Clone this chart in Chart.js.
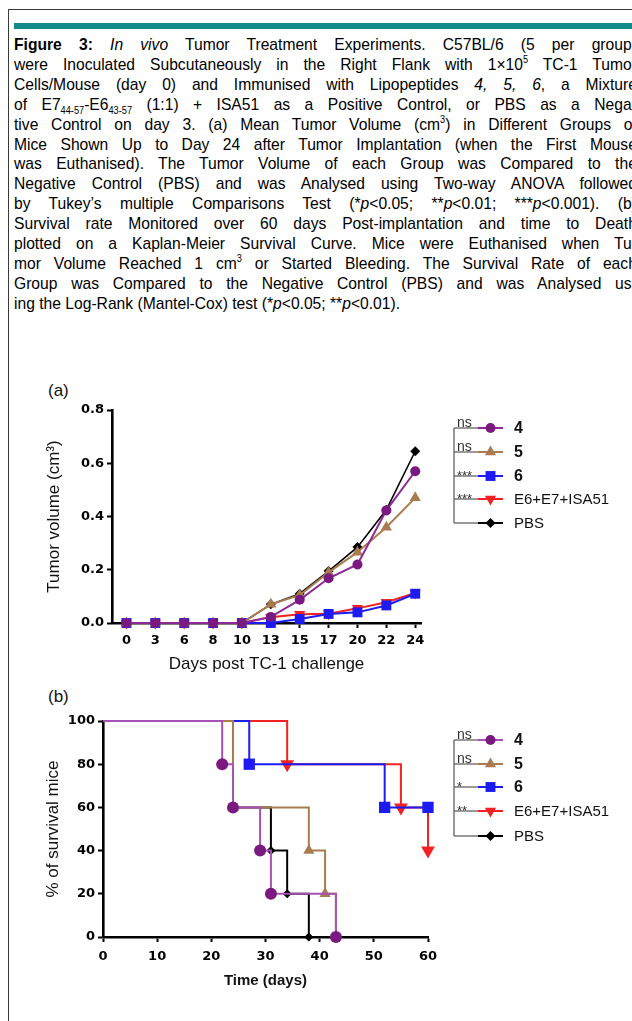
<!DOCTYPE html>
<html><head><meta charset="utf-8">
<script src="https://cdn.jsdelivr.net/npm/chart.js@4.4.1/dist/chart.umd.min.js"></script>
<style>
html,body{margin:0;padding:0;background:#fff;overflow:hidden;width:632px;height:1021px;position:relative;}
#box{position:absolute;left:8px;top:9px;width:700px;height:1100px;border:1px solid #3a3a3a;}
#bar{position:absolute;left:14px;top:23px;width:700px;height:6px;background:#128a8b;}
#cap{position:absolute;left:14px;top:35px;width:677px;font-family:'Liberation Sans',Arial,sans-serif;font-size:17px;line-height:19.9px;color:#000;transform:scaleX(0.92);transform-origin:0 0;}
#cap div{text-align:justify;text-align-last:justify;}
#cap div.last{text-align-last:left;}
sub,sup{font-size:10px;line-height:0;}
.lbl{position:absolute;font-family:'Liberation Sans',Arial,sans-serif;font-size:17px;color:#111;}
canvas{position:absolute;left:0;}
</style>
</head><body>
<div id="box"></div>
<div id="bar"></div>
<div id="cap">
<div><b>Figure 3:</b> <i>In vivo</i> Tumor Treatment Experiments. C57BL/6 (5 per group)</div>
<div>were Inoculated Subcutaneously in the Right Flank with 1×10<sup>5</sup> TC-1 Tumor</div>
<div>Cells/Mouse (day 0) and Immunised with Lipopeptides <i>4, 5, 6</i>, a Mixture</div>
<div>of E7<sub>44-57</sub>-E6<sub>43-57</sub> (1:1) + ISA51 as a Positive Control, or PBS as a Nega-</div>
<div>tive Control on day 3. (a) Mean Tumor Volume (cm<sup>3</sup>) in Different Groups of</div>
<div>Mice Shown Up to Day 24 after Tumor Implantation (when the First Mouse</div>
<div>was Euthanised). The Tumor Volume of each Group was Compared to the</div>
<div>Negative Control (PBS) and was Analysed using Two-way ANOVA followed</div>
<div>by Tukey’s multiple Comparisons Test (*<i>p</i>&lt;0.05; **<i>p</i>&lt;0.01; ***<i>p</i>&lt;0.001). (b)</div>
<div>Survival rate Monitored over 60 days Post-implantation and time to Death</div>
<div>plotted on a Kaplan-Meier Survival Curve. Mice were Euthanised when Tu-</div>
<div>mor Volume Reached 1 cm<sup>3</sup> or Started Bleeding. The Survival Rate of each</div>
<div>Group was Compared to the Negative Control (PBS) and was Analysed us-</div>
<div class="last">ing the Log-Rank (Mantel-Cox) test (*<i>p</i>&lt;0.05; **<i>p</i>&lt;0.01).</div>
</div>
<div class="lbl" style="left:48px;top:381px;">(a)</div>
<div class="lbl" style="left:48px;top:687px;">(b)</div>
<canvas id="ca" width="632" height="310" style="top:378px;"></canvas>
<canvas id="cb" width="632" height="330" style="top:683px;"></canvas>
<script>
// ---------- data ----------
const seriesNames = ['4','5','6','E6+E7+ISA51','PBS'];
const sigA = ['ns','ns','***','***',''];
const sigB = ['ns','ns','*','**',''];

// (a) mean tumor volume (cm3)
const days = ['0','3','6','8','10','13','15','17','20','22','24'];
const vol4   = [0,0,0,0,0,0.023,0.087,0.168,0.220,0.423,0.570];
const vol5   = [0,0,0,0,0,0.070,0.105,0.190,0.266,0.360,0.470];
const vol6   = [0,0,0,0,0,0.000,0.015,0.034,0.040,0.066,0.110];
const volE   = [0,0,0,0,0,0.022,0.033,0.035,0.055,0.078,0.113];
const volPBS = [0,0,0,0,0,0.070,0.110,0.195,0.285,0.425,0.645];
const yTicksA = [0,0.2,0.4,0.6,0.8];

// (b) Kaplan-Meier survival (% of survival mice)
const t4 = [0,22,24,29,31,43],  s4 = [100,80,60,40,20,0];
const t5 = [0,24,38,41,43],     s5 = [100,60,40,20,0];
const t6 = [0,27,52,60],        s6 = [100,80,60,60];
const tE = [0,34,55,60],        sE = [100,80,60,40];
const tP = [0,24,31,34,38],     sP = [100,60,40,20,0];
const yTicksB = [0,20,40,60,80,100];
const xTicksB = [0,10,20,30,40,50,60];

// ---------- styles ----------
const FONT = "'Liberation Sans', Arial, sans-serif";
const TICKFONT = "'DejaVu Sans', 'Liberation Sans', sans-serif";
const colPurple = '#7a1a80', colPurpleLineA = '#8e2a96', colPurpleLineB = '#a852b8';
const colBrown = '#a97c50', colBlue = '#1c1cf2', colRed = '#f22222', colBlack = '#000000';

function markerPath(ctx, style, r, x, y, rot) {
  ctx.beginPath();
  if (style === 'circle') { ctx.arc(x, y, r, 0, Math.PI*2); }
  else if (style === 'triangle') {
    const a0 = (rot||0) * Math.PI/180;
    for (let k=0;k<3;k++){const a=a0+k*2*Math.PI/3; const px=x+Math.sin(a)*r, py=y-Math.cos(a)*r; k?ctx.lineTo(px,py):ctx.moveTo(px,py);}
    ctx.closePath();
  } else if (style === 'rect') { const s=r*Math.SQRT1_2; ctx.rect(x-s,y-s,2*s,2*s); }
  else if (style === 'rectRot') { ctx.moveTo(x,y-r);ctx.lineTo(x+r,y);ctx.lineTo(x,y+r);ctx.lineTo(x-r,y);ctx.closePath(); }
  ctx.fill();
}

const bracketLegend = {
  id: 'bracketLegend',
  afterDraw(chart, args, opts) {
    const ctx = chart.ctx, ca = chart.chartArea;
    const bx = ca.right + opts.dx;
    const rows = opts.rows.map(r => ca.top + r);
    ctx.save();
    ctx.strokeStyle = '#555'; ctx.lineWidth = 1.2;
    ctx.beginPath(); ctx.moveTo(bx, rows[0]); ctx.lineTo(bx, rows[rows.length-1]); ctx.stroke();
    chart.data.datasets.forEach((ds, i) => {
      const y = rows[i];
      ctx.strokeStyle = '#555'; ctx.lineWidth = 1.2;
      ctx.beginPath(); ctx.moveTo(bx, y); ctx.lineTo(bx+24, y); ctx.stroke();
      const sig = opts.sig[i];
      if (sig) {
        ctx.fillStyle = '#333';
        ctx.textAlign = 'left';
        ctx.textBaseline = 'alphabetic';
        if (sig === 'ns') { ctx.font = '14px ' + FONT; ctx.fillText(sig, bx+3, y-1); }
        else { ctx.font = '13px ' + FONT; ctx.fillText(sig, bx+3, y+4); }
      }
      ctx.strokeStyle = ds.legendLine || ds.borderColor; ctx.lineWidth = 2;
      ctx.beginPath(); ctx.moveTo(bx+24, y); ctx.lineTo(bx+49, y); ctx.stroke();
      ctx.fillStyle = ds.pointBackgroundColor;
      markerPath(ctx, ds.pointStyle, ds.legendR, bx+36.5, y, ds.rotation);
      ctx.fillStyle = '#111';
      ctx.textBaseline = 'middle';
      ctx.font = (/^\d$/.test(ds.label) ? 'bold 16px ' : '15px ') + FONT;
      ctx.fillText(ds.label, bx+60, y+1);
    });
    ctx.restore();
  }
};

function axisCommon(extra) {
  return Object.assign({
    grid: { display: true, drawOnChartArea: false, drawTicks: true, tickLength: 5, tickColor: '#000', tickWidth: 2 },
    border: { display: true, color: '#000', width: 2.6 },
  }, extra);
}

// ---------- chart (a) ----------
const xyA = arr => arr.map((v, i) => ({ x: i, y: v }));
function dsA(label, data, color, line, style, r, rot, bw) {
  return { label, data: xyA(data), borderColor: line, legendLine: line, backgroundColor: color,
    pointBackgroundColor: color, pointBorderColor: color, pointBorderWidth: 0, pointStyle: style,
    pointRadius: r, rotation: rot || 0, legendR: r, borderWidth: bw || 2, clip: false, tension: 0 };
}
new Chart(document.getElementById('ca'), {
  type: 'line',
  data: { datasets: [
    dsA(seriesNames[0], vol4, colPurple, colPurpleLineA, 'circle', 5),
    dsA(seriesNames[1], vol5, colBrown, colBrown, 'triangle', 6.5),
    dsA(seriesNames[2], vol6, colBlue, colBlue, 'rect', 7),
    dsA(seriesNames[3], volE, colRed, colRed, 'triangle', 6.5, 180),
    dsA(seriesNames[4], volPBS, colBlack, colBlack, 'rectRot', 5, 0, 1.6),
  ]},
  options: {
    responsive: false, animation: false, devicePixelRatio: 1,
    layout: { padding: { top: 32, right: 211, left: 0, bottom: 0 } },
    plugins: { legend: { display: false }, tooltip: { enabled: false },
      bracketLegend: { dx: 33, rows: [18, 42, 66, 89, 113], sig: sigA } },
    scales: {
      x: axisCommon({ type: 'linear', min: -0.5, max: 10.2,
        afterBuildTicks: s => { s.ticks = days.map((d, i) => ({ value: i })); },
        afterFit: s => { s.height = 65; },
        ticks: { callback: v => days[Math.round(v)], font: { family: TICKFONT, size: 13, weight: 'bold' }, color: '#000', padding: 5, maxRotation: 0, autoSkip: false },
        title: { display: true, text: 'Days post TC-1 challenge', font: { family: FONT, size: 17 }, color: '#111', padding: { top: 0, bottom: 13 } } }),
      y: axisCommon({ min: 0, max: 0.8,
        afterBuildTicks: s => { s.ticks = yTicksA.map(v => ({ value: v })); },
        afterFit: s => { s.width = 112; },
        ticks: { callback: v => v.toFixed(1), font: { family: TICKFONT, size: 13, weight: 'bold' }, color: '#000', padding: 3 },
        title: { display: true, text: 'Tumor volume (cm³)', font: { family: FONT, size: 17 }, color: '#111', padding: { top: 44, bottom: 0 } } })
    }
  },
  plugins: [bracketLegend]
});

// ---------- chart (b) ----------
const xyB = (t, s) => t.map((v, i) => ({ x: v, y: s[i] }));
function dsB(label, t, s, color, line, style, r, rot, lr) {
  return { label, data: xyB(t, s), borderColor: line, legendLine: line, backgroundColor: color,
    pointBackgroundColor: color, pointBorderColor: color, pointBorderWidth: 0, pointStyle: style,
    pointRadius: c => c.dataIndex === 0 ? 0 : r, rotation: rot || 0, legendR: lr, borderWidth: 2,
    stepped: 'before', clip: false };
}
new Chart(document.getElementById('cb'), {
  type: 'line',
  data: { datasets: [
    dsB(seriesNames[0], t4, s4, colPurple, colPurpleLineB, 'circle', 6, 0, 5),
    dsB(seriesNames[1], t5, s5, colBrown, colBrown, 'triangle', 6.5, 0, 6.5),
    dsB(seriesNames[2], t6, s6, colBlue, colBlue, 'rect', 8, 0, 7),
    dsB(seriesNames[3], tE, sE, colRed, colRed, 'triangle', 8, 180, 6.5),
    dsB(seriesNames[4], tP, sP, colBlack, colBlack, 'rectRot', 4.5, 0, 5),
  ]},
  options: {
    responsive: false, animation: false, devicePixelRatio: 1,
    layout: { padding: { top: 38, right: 204, left: 0, bottom: 0 } },
    plugins: { legend: { display: false }, tooltip: { enabled: false },
      bracketLegend: { dx: 26, rows: [19, 43, 66, 90, 115], sig: sigB } },
    scales: {
      x: axisCommon({ type: 'linear', min: 0, max: 60,
        afterBuildTicks: s => { s.ticks = xTicksB.map(v => ({ value: v })); },
        afterFit: s => { s.height = 76; },
        ticks: { font: { family: TICKFONT, size: 13, weight: 'bold' }, color: '#000', padding: 7 },
        title: { display: true, text: 'Time (days)', font: { family: FONT, size: 15, weight: 'bold' }, color: '#111', padding: { top: 0, bottom: 23 } } }),
      y: axisCommon({ min: 0, max: 100,
        afterBuildTicks: s => { s.ticks = yTicksB.map(v => ({ value: v })); },
        afterFit: s => { s.width = 103; },
        ticks: { font: { family: TICKFONT, size: 13, weight: 'bold' }, color: '#000', padding: 3 },
        title: { display: true, text: '% of survival mice', font: { family: FONT, size: 17 }, color: '#111', padding: { top: 43, bottom: 0 } } })
    }
  },
  plugins: [bracketLegend]
});
</script>
</body></html>
